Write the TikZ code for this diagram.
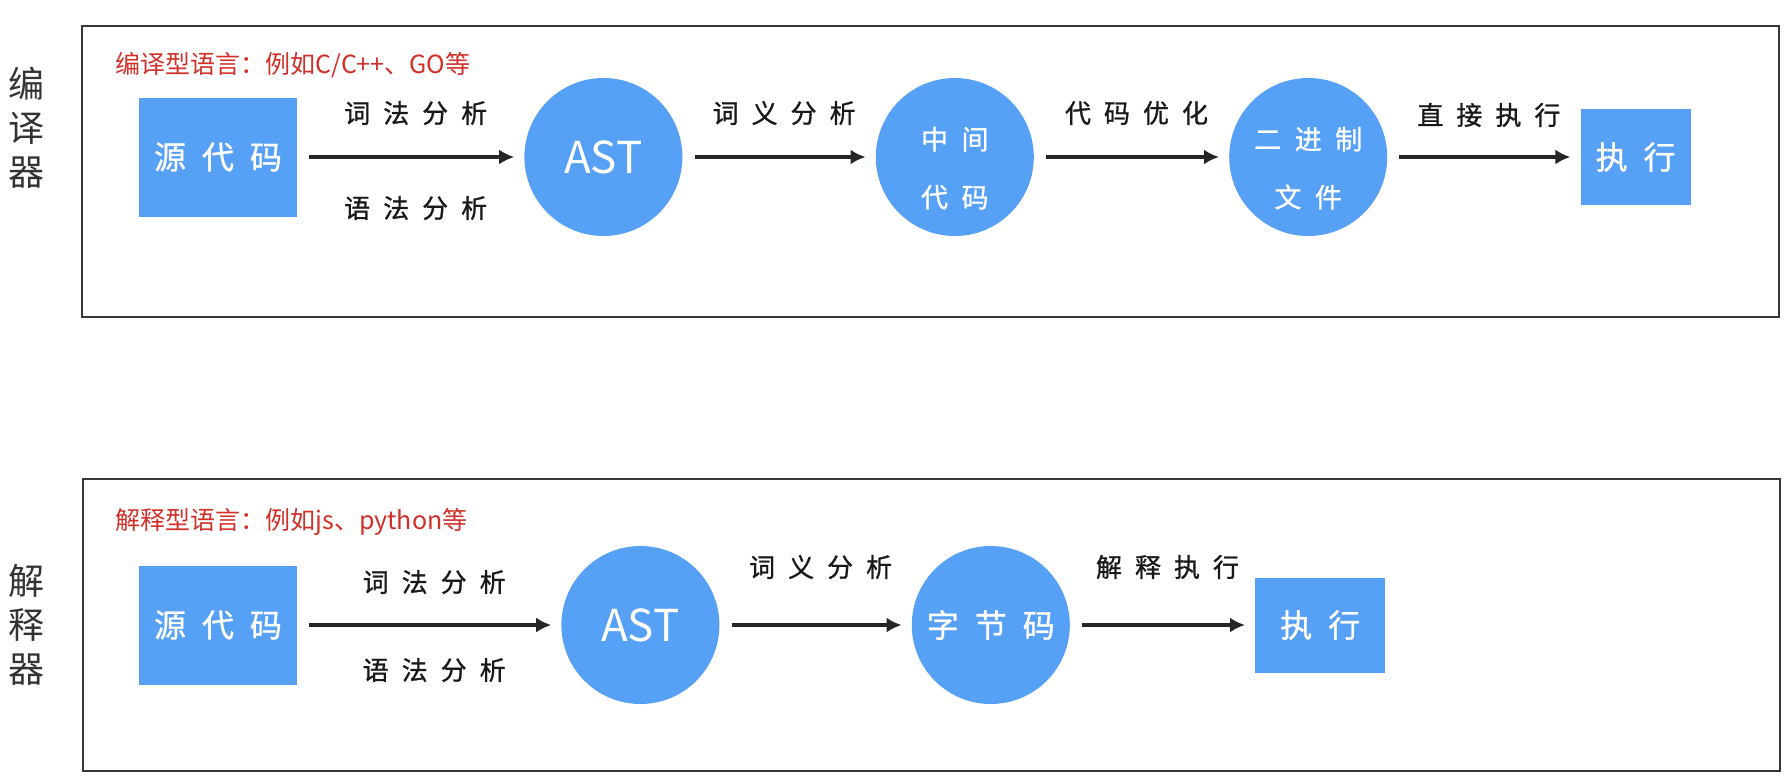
\documentclass[tikz,border=0pt]{standalone}
\usepackage{fontspec}
\setmainfont{Noto Sans CJK SC}
\newfontfamily\hand[LetterSpace=50, FakeBold=1]{Noto Sans CJK SC}
\usetikzlibrary{positioning,arrows.meta,shapes}

\definecolor{stageblue}{RGB}{86,160,245}
\definecolor{notered}{RGB}{208,48,40}
\definecolor{framegray}{RGB}{55,55,55}

\tikzset{
  src/.style={rectangle, fill=stageblue, text=white, inner sep=0pt, minimum width=158pt, minimum height=119pt, font=\hand\fontsize{32}{36}\selectfont},
  run/.style={src, minimum width=110pt, minimum height=96pt},
  stage/.style={circle, fill=stageblue, text=white, inner sep=0pt, minimum size=158pt, align=center, font=\hand\fontsize{27}{58}\selectfont},
  lbl/.style={font=\hand\fontsize{26}{30}\selectfont, text=black!90, xshift=5pt},
  flow/.style={-{Latex[length=15pt,width=15pt]}, draw=black!85, line width=3.4pt, shorten <=12pt, shorten >=10pt},
  frame/.style={draw=framegray, line width=2.5pt},
  note/.style={text=notered, font=\fontsize{25}{28}\selectfont, anchor=west},
  side/.style={align=center, font=\fontsize{36}{44}\selectfont, text=black!80}
}
\newcommand\twoline[2]{\raisebox{-16pt}[0pt][0pt]{\begin{tabular}{@{}c@{}}#1\\#2\end{tabular}}}

\begin{document}
\begin{tikzpicture}[x=1pt, y=-1pt]
  \useasboundingbox (0,0) rectangle (1790,782);
  \draw[frame] (82,26) rectangle (1779,317);
  \draw[frame] (83,479) rectangle (1780,771);
  \node[side] (cmp) at (27,128) {编\\译\\器};
  \node[side] (itp) at (27,625) {解\\释\\器};
  \node[note] (cmpnote) at (112,65) {编译型语言：例如C/C++、GO等};
  \node[note] (itpnote) at (112,522) {解释型语言：例如js、python等};

  % compiler row
  \node[src] (src1) at (218,157) {源代码};
  \node[stage, right=227pt of src1, font=\fontsize{44}{50}\selectfont] (ast1) {AST};
  \node[stage, right=193pt of ast1] (ir1) {\twoline{中间}{代码}};
  \node[stage, right=195pt of ir1] (bin1) {\twoline{二进制}{文件}};
  \node[run, right=193pt of bin1] (exec1) {执行};

  % interpreter row
  \node[src] (src2) at (218,625) {源代码};
  \node[stage, right=264pt of src2, font=\fontsize{44}{50}\selectfont] (ast2) {AST};
  \node[stage, right=192pt of ast2, font=\hand\fontsize{32}{36}\selectfont] (bc2) {字节码};
  \node[run, right=185pt of bc2, minimum width=130pt, minimum height=95pt] (exec2) {执行};

  \path
  (src1) edge[flow] node [lbl, yshift=44pt] {词法分析} node [lbl, yshift=-51pt] {语法分析} (ast1)
  (ast1) edge[flow] node [lbl, yshift=44pt] {词义分析} (ir1)
  (ir1) edge[flow] node [lbl, yshift=44pt] {代码优化} (bin1)
  (bin1) edge[flow] node [lbl, yshift=42pt] {直接执行} (exec1);
  \path
  (src2) edge[flow] node [lbl, yshift=43pt] {词法分析} node [lbl, yshift=-45pt] {语法分析} (ast2)
  (ast2) edge[flow] node [lbl, yshift=58pt] {词义分析} (bc2)
  (bc2) edge[flow] node [lbl, yshift=58pt] {解释执行} (exec2);
\end{tikzpicture}
\end{document}
